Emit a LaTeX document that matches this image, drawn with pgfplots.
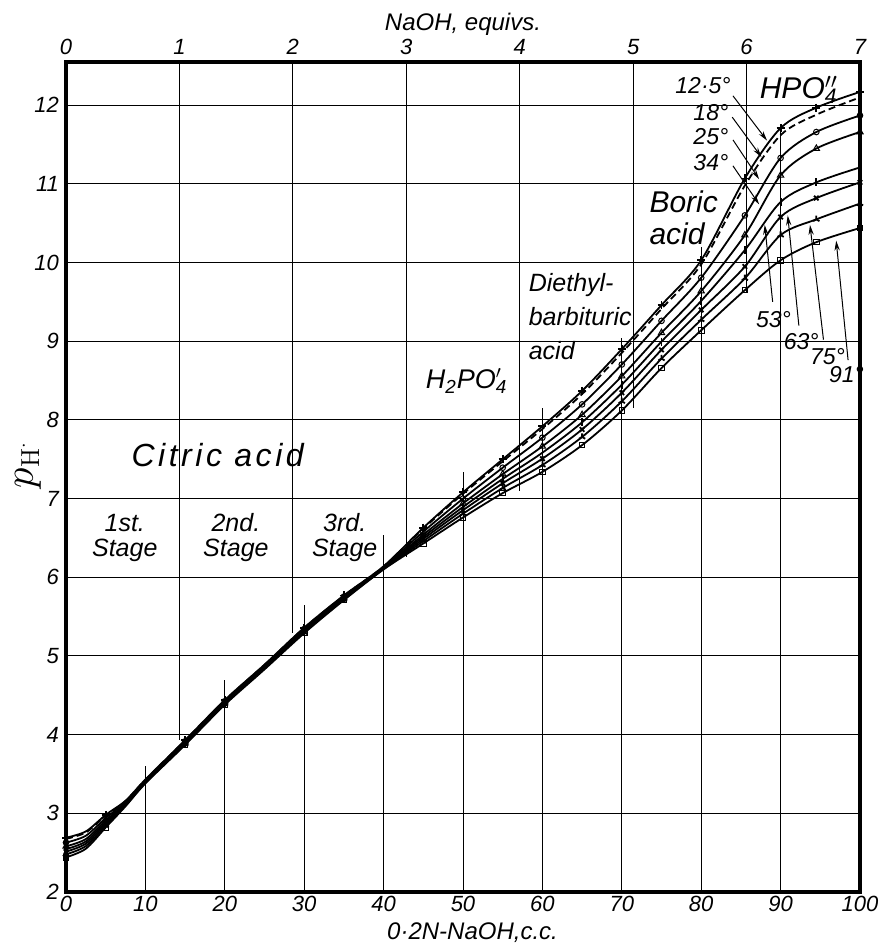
\documentclass[border=0pt]{standalone}
\usepackage{pgfplots}
\pgfplotsset{compat=1.18}
\usepackage{pgfplotstable}
\usepackage{fontspec}
\setmainfont{Liberation Sans}
\usetikzlibrary{arrows.meta,plotmarks}

% columns: 12.5, 18, 25, 34, 53, 63, 75, 91 degrees
\pgfplotstableread{
x a b c d e f g h
0 2.69 2.675 2.628 2.580 2.545 2.513 2.478 2.44
2.5 2.77 2.757 2.715 2.673 2.642 2.614 2.583 2.55
5 2.98 2.970 2.940 2.910 2.887 2.866 2.844 2.82
7.5 3.16 3.156 3.143 3.129 3.119 3.110 3.101 3.09
10 3.43 3.427 3.418 3.408 3.401 3.395 3.388 3.38
15 3.93 3.926 3.915 3.904 3.895 3.887 3.879 3.87
20 4.44 4.436 4.425 4.414 4.405 4.397 4.389 4.38
25 4.89 4.886 4.875 4.864 4.855 4.847 4.839 4.83
30 5.36 5.356 5.343 5.329 5.319 5.310 5.301 5.29
35 5.77 5.766 5.755 5.744 5.735 5.727 5.719 5.71
40 6.14 6.138 6.130 6.122 6.117 6.112 6.106 6.10
45 6.63 6.618 6.580 6.542 6.514 6.488 6.460 6.43
50 7.08 7.061 7.000 6.939 6.894 6.853 6.808 6.76
55 7.50 7.474 7.393 7.311 7.251 7.195 7.135 7.07
60 7.92 7.885 7.775 7.665 7.584 7.508 7.427 7.34
65 8.37 8.329 8.198 8.066 7.970 7.880 7.784 7.68
70 8.90 8.853 8.705 8.557 8.448 8.346 8.237 8.12
75 9.46 9.412 9.260 9.108 8.996 8.892 8.780 8.66
80 10.03 9.977 9.808 9.638 9.514 9.398 9.274 9.14
85.5 11.07 10.98 10.60 10.35 10.16 9.95 9.80 9.65
90 11.71 11.62 11.33 11.11 10.77 10.58 10.35 10.03
94.5 11.97 11.88 11.66 11.45 11.02 10.82 10.55 10.26
100 12.17 12.10 11.87 11.66 11.21 11.02 10.75 10.44
}\curves

\newcommand\lab[2]{\fontsize{#1}{#2}\selectfont\itshape}
\tikzset{tarr/.style={line width=0.5pt,-{Stealth[length=5pt,width=2.6pt]}}}

\begin{document}
\begin{tikzpicture}
\begin{axis}[
  scale only axis, width=397pt, height=415pt,
  xmin=0, xmax=100, ymin=2, ymax=12.55,
  xtick={0,10,...,100}, ytick={2,...,12},
  axis line style={line width=1.6pt},
  major tick length=0pt,
  ymajorgrids, grid style={line width=0.5pt, black},
  /pgf/number format/assume math mode=true,
  tick label style={font=\lab{11}{13}},
  xticklabel style={yshift=1.5pt},
  xlabel={0·2N-NaOH,c.c.},
  xlabel style={font=\lab{12}{14}, at={(axis description cs:0.512,-0.049)}, anchor=center},
  ylabel={$p_{\hbox{\fontsize{13}{13}\fontfamily{lmr}\selectfont H}^{\cdot}}$},
  ylabel style={font=\fontsize{20}{24}\selectfont, at={(axis description cs:-0.048,0.515)}, anchor=center},
  clip=false,
  mark indices={1,3,6,7,9,10,12,13,14,15,16,17,18,19,20,21,22,23},
]
% lower (c.c.) grid segments
\draw[line width=0.5pt] (axis cs:10,2) -- (axis cs:10,3.6);
\draw[line width=0.5pt] (axis cs:20,2) -- (axis cs:20,4.69);
\draw[line width=0.5pt] (axis cs:30,2) -- (axis cs:30,5.65);
\draw[line width=0.5pt] (axis cs:40,2) -- (axis cs:40,6.54);
\draw[line width=0.5pt] (axis cs:50,2) -- (axis cs:50,7.34);
\draw[line width=0.5pt] (axis cs:60,2) -- (axis cs:60,8.15);
\draw[line width=0.5pt] (axis cs:70,2) -- (axis cs:70,9.04);
\draw[line width=0.5pt] (axis cs:80,2) -- (axis cs:80,10.2);
\draw[line width=0.5pt] (axis cs:90,2) -- (axis cs:90,11.72);
% upper (equivalents) grid segments
\draw[line width=0.5pt] (axis cs:14.2857,12.55) -- (axis cs:14.2857,3.93);
\draw[line width=0.5pt] (axis cs:28.5714,12.55) -- (axis cs:28.5714,5.29);
\draw[line width=0.5pt] (axis cs:42.8571,12.55) -- (axis cs:42.8571,6.26);
\draw[line width=0.5pt] (axis cs:57.1429,12.55) -- (axis cs:57.1429,7.10);
\draw[line width=0.5pt] (axis cs:71.4286,12.55) -- (axis cs:71.4286,8.15);
\draw[line width=0.5pt] (axis cs:85.7143,12.55) -- (axis cs:85.7143,9.61);

% curves
\addplot[black, line width=0.9pt, smooth, mark=+, mark size=2pt] table[x=x,y=a]{\curves};
\addplot[black, line width=0.9pt, smooth, dash pattern=on 3.5pt off 2pt, no marks] table[x=x,y=b]{\curves};
\addplot[black, line width=0.9pt, smooth, mark=o, mark size=1.4pt, mark options={solid, fill=white, line width=0.5pt}] table[x=x,y=c]{\curves};
\addplot[black, line width=0.9pt, smooth, mark=triangle, mark size=1.8pt, mark options={solid, fill=white, line width=0.5pt}] table[x=x,y=d]{\curves};
\addplot[black, line width=0.9pt, smooth, mark=|, mark size=2pt] table[x=x,y=e]{\curves};
\addplot[black, line width=0.9pt, smooth, mark=x, mark size=1.6pt] table[x=x,y=f]{\curves};
\addplot[black, line width=0.9pt, smooth, mark=Mercedes star, mark size=1.8pt] table[x=x,y=g]{\curves};
\addplot[black, line width=0.9pt, smooth, mark=square, mark size=1.4pt, mark options={solid, fill=white, line width=0.5pt}] table[x=x,y=h]{\curves};

% labels
\node[font=\lab{16}{18}\addfontfeature{LetterSpace=11}] at (axis cs:19.1,7.55) {Citric acid};
\node[font=\lab{12.5}{12.5}, align=center] at (axis cs:7.4,6.5) {1st.\\Stage};
\node[font=\lab{12.5}{12.5}, align=center] at (axis cs:21.4,6.5) {2nd.\\Stage};
\node[font=\lab{12.5}{12.5}, align=center] at (axis cs:35.1,6.5) {3rd.\\Stage};
\node[font=\lab{13.5}{15}] at (axis cs:50.1,8.5) {H\textsubscript{2}PO\rlap{\textsubscript{4}}\textsuperscript{$\prime$}};
\node[font=\lab{12.5}{17}, align=left, anchor=west] at (axis cs:57.4,9.32) {Diethyl-\\barbituric\\acid};
\node[font=\lab{15}{16}, align=left, anchor=west] at (axis cs:72.6,10.57) {Boric\\acid};
\node[font=\lab{15}{16}] at (axis cs:92.3,12.2) {HPO\rlap{\textsubscript{4}}\textsuperscript{$\prime\prime$}};

% temperature labels and arrows
\node[font=\lab{11.5}{12}, anchor=east] at (axis cs:84.6,12.25) {12·5°};
\node[font=\lab{11.5}{12}, anchor=east] at (axis cs:84.3,11.91) {18°};
\node[font=\lab{11.5}{12}, anchor=east] at (axis cs:84.3,11.60) {25°};
\node[font=\lab{11.5}{12}, anchor=east] at (axis cs:84.3,11.27) {34°};
\draw[tarr] (axis cs:84.0,12.12) -- (axis cs:88.3,11.55);
\draw[tarr] (axis cs:83.9,11.85) -- (axis cs:87.6,11.34);
\draw[tarr] (axis cs:84.0,11.56) -- (axis cs:87.3,11.06);
\draw[tarr] (axis cs:84.0,11.23) -- (axis cs:87.3,10.74);

\node[font=\lab{11.5}{12}] at (axis cs:89.1,9.28) {53°};
\node[font=\lab{11.5}{12}] at (axis cs:92.6,9.00) {63°};
\node[font=\lab{11.5}{12}] at (axis cs:95.9,8.81) {75°};
\node[font=\lab{11.5}{12}] at (axis cs:98.3,8.58) {91°};
\draw[tarr] (axis cs:89.0,9.50) -- (axis cs:88.0,10.48);
\draw[tarr] (axis cs:92.3,9.20) -- (axis cs:90.9,10.60);
\draw[tarr] (axis cs:95.4,9.02) -- (axis cs:93.7,10.48);
\draw[tarr] (axis cs:98.5,8.76) -- (axis cs:97.0,10.28);
\end{axis}

\begin{axis}[
  scale only axis, width=397pt, height=415pt,
  xmin=0, xmax=7, ymin=2, ymax=12.55,
  axis x line*=top, axis y line=none,
  xtick={0,...,7},
  axis line style={line width=1.6pt},
  major tick length=0pt,
  /pgf/number format/assume math mode=true,
  tick label style={font=\lab{11}{13}},
  xlabel={NaOH, equivs.},
  xlabel style={font=\lab{12}{14}, at={(axis description cs:0.5,1.046)}, anchor=center},
]
\end{axis}
\pgfresetboundingbox
\path (-33pt,-26pt) rectangle (407.5pt,446pt);
\end{tikzpicture}
\end{document}
